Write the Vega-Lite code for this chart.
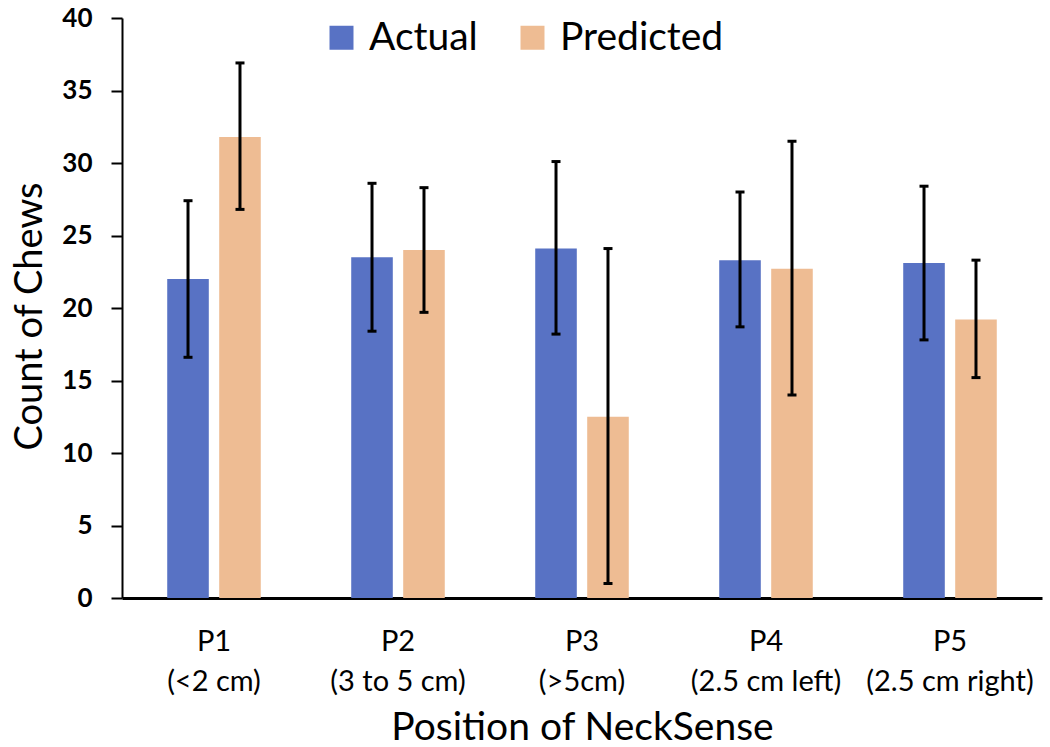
{
  "$schema": "https://vega.github.io/schema/vega-lite/v6.json",
  "width": 920,
  "height": 580,
  "autosize": {"type": "none"},
  "padding": {"left": 122, "top": 18, "right": 8, "bottom": 149},
  "background": "white",
  "config": {"view": {"stroke": null}, "font": "Lato"},
  "data": {
    "values": [
      {"pos": "P1|(<2 cm)", "type": "Actual", "value": 22.0, "lo": 16.6, "hi": 27.4},
      {"pos": "P1|(<2 cm)", "type": "Predicted", "value": 31.8, "lo": 26.8, "hi": 36.9},
      {"pos": "P2|(3 to 5 cm)", "type": "Actual", "value": 23.5, "lo": 18.4, "hi": 28.6},
      {"pos": "P2|(3 to 5 cm)", "type": "Predicted", "value": 24.0, "lo": 19.7, "hi": 28.3},
      {"pos": "P3|(>5cm)", "type": "Actual", "value": 24.1, "lo": 18.2, "hi": 30.1},
      {"pos": "P3|(>5cm)", "type": "Predicted", "value": 12.5, "lo": 1.0, "hi": 24.1},
      {"pos": "P4|(2.5 cm left)", "type": "Actual", "value": 23.3, "lo": 18.7, "hi": 28.0},
      {"pos": "P4|(2.5 cm left)", "type": "Predicted", "value": 22.7, "lo": 14.0, "hi": 31.5},
      {"pos": "P5|(2.5 cm right)", "type": "Actual", "value": 23.1, "lo": 17.8, "hi": 28.4},
      {"pos": "P5|(2.5 cm right)", "type": "Predicted", "value": 19.2, "lo": 15.2, "hi": 23.3}
    ]
  },
  "encoding": {
    "x": {
      "field": "pos", "type": "nominal", "sort": null,
      "scale": {"paddingInner": 0, "paddingOuter": 0},
      "axis": {
        "labelExpr": "split(datum.label, '|')",
        "labelAngle": 0, "labelFontSize": 29, "labelColor": "#000",
        "labelPadding": 29, "labelLineHeight": 40, "labelLimit": 0,
        "ticks": false, "domainColor": "#000", "domainWidth": 3,
        "title": "Position of NeckSense", "titleFontSize": 39,
        "titleFontWeight": "normal", "titlePadding": 12, "titleColor": "#000"
      }
    },
    "xOffset": {"field": "type", "type": "nominal", "scale": {"paddingInner": 0.2, "paddingOuter": 0.87}}
  },
  "layer": [
    {
      "mark": {"type": "bar"},
      "encoding": {
        "y": {
          "field": "value", "type": "quantitative",
          "scale": {"domain": [0, 40]},
          "axis": {
            "values": [0, 5, 10, 15, 20, 25, 30, 35, 40],
            "grid": false, "labelFontSize": 26, "labelFontWeight": "bold",
            "labelColor": "#000", "tickColor": "#000", "tickSize": 11, "tickWidth": 2,
            "domainColor": "#000", "domainWidth": 2, "labelPadding": 19,
            "title": "Count of Chews", "titleFontSize": 38, "titleFontWeight": "normal",
            "titlePadding": 12, "titleColor": "#000", "titleY": 298
          }
        },
        "color": {
          "field": "type", "type": "nominal",
          "scale": {"domain": ["Actual", "Predicted"], "range": ["#5872C4", "#EEBC93"]},
          "legend": {
            "orient": "none", "legendX": 200, "legendY": 0, "direction": "horizontal",
            "title": null, "symbolType": "square", "symbolSize": 576,
            "labelFontSize": 39, "labelColor": "#000", "columnPadding": 35,
            "labelOffset": 8, "labelLimit": 0, "symbolStrokeWidth": 0, "symbolOpacity": 1
          }
        }
      }
    },
    {
      "mark": {"type": "rule", "strokeWidth": 3, "color": "black"},
      "encoding": {
        "y": {"field": "lo", "type": "quantitative"},
        "y2": {"field": "hi"}
      }
    },
    {
      "mark": {"type": "tick", "color": "black", "thickness": 3, "size": 9, "opacity": 1},
      "encoding": {"y": {"field": "lo", "type": "quantitative"}}
    },
    {
      "mark": {"type": "tick", "color": "black", "thickness": 3, "size": 9, "opacity": 1},
      "encoding": {"y": {"field": "hi", "type": "quantitative"}}
    }
  ]
}
